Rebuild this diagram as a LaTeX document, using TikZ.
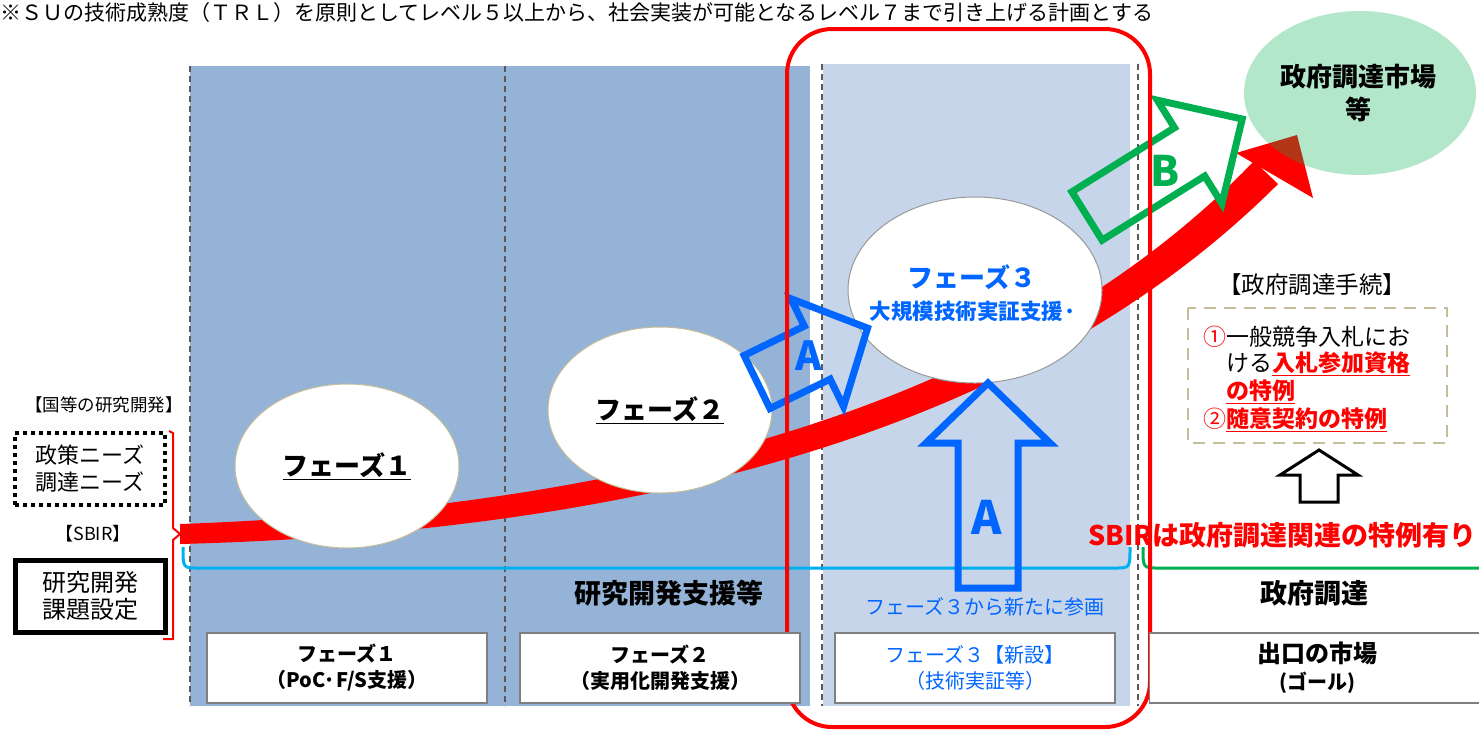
\documentclass[tikz,border=0pt]{standalone}
\usepackage{fontspec}
\setmainfont{Noto Sans CJK JP}
\usetikzlibrary{shapes.geometric}
\definecolor{panelA}{HTML}{95B3D7}
\definecolor{panelB}{HTML}{C6D5EA}
\definecolor{jblue}{HTML}{0066FF}
\definecolor{jred}{HTML}{FF0000}
\definecolor{jgreen}{HTML}{00B050}
\definecolor{jcyan}{HTML}{00B0F0}
\definecolor{jgray}{HTML}{595959}
\definecolor{boxgray}{HTML}{7F7F7F}
\definecolor{jtan}{HTML}{C4BD97}
\newcommand{\fsz}[2]{\fontsize{#1}{#2}\selectfont}
% block arrow: style, tail coordinate, angle, shaft length, half shaft width, head length, half head width
\newcommand{\blkarrow}[7]{\draw[#1, shift={(#2)}, rotate=#3] (0,-#5) -- (#4,-#5) -- (#4,-#7) -- ({#4+#6},0) -- (#4,#7) -- (#4,#5) -- (0,#5) -- cycle;}
\begin{document}
\begin{tikzpicture}[x=1pt,y=-1pt,
  phase/.style={ellipse, fill=white, draw=jtan, line width=1pt, inner sep=0pt},
  botbox/.style={draw=boxgray, line width=1.5pt, fill=white, minimum width=280pt, minimum height=70pt, align=center, inner sep=0pt},
  vline/.style={jgray, line width=1.5pt, dash pattern=on 6pt off 4pt},
  blueblk/.style={draw=jblue, line width=7pt, line join=miter},
  greenblk/.style={draw=jgreen, line width=7pt, line join=miter},
  lbl/.style={inner sep=0pt}
]
\clip (0,0) rectangle (1479,729);
\fill[white] (0,0) rectangle (1479,729);

% note at top
\node[lbl, anchor=west, font={\fsz{21}{24}}] (note) at (0,13) {※ＳＵの技術成熟度（ＴＲＬ）を原則としてレベル５以上から、社会実装が可能となるレベル７まで引き上げる計画とする};

% panels
\fill[panelA] (190,66) rectangle (810,706);
\fill[panelB] (823,64) rectangle (1130,706);
\draw[vline] (190,66) -- (190,706);
\draw[vline] (505,66) -- (505,706);
\draw[vline] (822,64) -- (822,706);
\draw[vline] (1138,64) -- (1138,706);

% braces
\draw[jcyan, line width=3pt] (183,547) .. controls (183,568) .. (198,568) -- (1115,568) .. controls (1130,568) .. (1130,547);
\draw[jgreen, line width=3pt] (1143,547) .. controls (1143,568) .. (1158,568) -- (1485,568);

% main red band
\fill[jred] (180,524) .. controls (600,509) and (1005,420) .. (1254,161)
  -- (1278,184) .. controls (1015,447) and (600,533) .. (180,544) -- cycle;
\coordinate (tipL) at (1236,153);
\coordinate (tip) at (1297,135);
\coordinate (tipR) at (1313,198);
\fill[jred] (tipL) -- (tip) -- (tipR) -- cycle;

% phase ellipses
\node[phase, minimum width=224pt, minimum height=164pt] (p1) at (347,466) {};
\node[lbl, font={\fsz{26}{30}\bfseries}] (p1t) at (p1.center) {\underline{フェーズ１}};
\node[phase, minimum width=224pt, minimum height=166pt] (p2) at (660,410) {};
\node[lbl, font={\fsz{26}{30}\bfseries}] (p2t) at (p2.center) {\underline{フェーズ２}};
\node[phase, draw=boxgray!80, minimum width=254pt, minimum height=186pt] (p3) at (975,290) {};
\node[lbl, text=jblue, font={\bfseries}] (p3a) at (972,277) {\fsz{26}{30}フェーズ３};
\node[lbl, text=jblue, font={\bfseries}] (p3b) at (973,311) {\fsz{21.5}{24}大規模技術実証支援·};

% block arrows
\coordinate (aTail) at (757,382);
\blkarrow{blueblk}{aTail}{26}{67}{29.5}{56}{60}
\node[lbl, text=jblue, font={\fsz{40}{40}\bfseries}] (aLbl) at (809,356) {A};
\coordinate (vTail) at (988,588);
\blkarrow{blueblk}{vTail}{90}{145}{30}{60}{62}
\node[lbl, text=jblue, font={\fsz{46}{46}\bfseries}] (vLbl) at (987,517) {A};
\coordinate (bTail) at (1087,216);
\blkarrow{greenblk}{bTail}{32}{121}{28.5}{62}{61}
\node[lbl, text=jgreen, font={\fsz{42}{42}\bfseries}] (bLbl) at (1165,171) {B};

% red frame
\draw[jred, line width=4pt, rounded corners=45pt] (787,29) rectangle (1150,727);

% market ellipse
\node[ellipse, fill=jgreen, fill opacity=0.3, minimum width=232pt, minimum height=164pt, inner sep=0pt] (market) at (1360,93) {};
\node[lbl, align=center, font={\fsz{26}{33}\bfseries}] (marketT) at (1358,93) {政府調達市場\\等};

% left side
\node[lbl, font={\fsz{17.5}{18}}] (kuni) at (104,405) {【国等の研究開発】};
\node[draw=black, line width=4pt, dash pattern=on 4pt off 4pt, minimum width=150pt, minimum height=72pt, align=center, inner sep=0pt, font={\fsz{22}{27}}] (needs) at (90,469) {政策ニーズ\\調達ニーズ};
\node[lbl, font={\fsz{18}{18}}] (sbirL) at (93,534) {【SBIR】};
\node[draw=black, line width=5pt, minimum width=150pt, minimum height=72pt, align=center, inner sep=0pt, font={\fsz{24}{27}}] (kadai) at (90,596) {研究開発\\課題設定};
\draw[jred, line width=2pt] (needs.north east) ++(2,0) coordinate (brT) -- (173,433) -- (173,528) -- (180,534) -- (173,540) -- (173,639) -- (163,639);

% labels in panels
\node[lbl, font={\fsz{27}{30}\bfseries}] (rd) at (669,593) {研究開発支援等};
\node[lbl, font={\fsz{27}{30}\bfseries}] (gp) at (1314,593) {政府調達};
\node[lbl, text=jblue, font={\fsz{20}{24}}] (join) at (985,607) {フェーズ３から新たに参画};

% bottom boxes
\node[botbox, font={\fsz{20}{26}\bfseries}] (b1) at (347,668) {フェーズ１\\（PoC·F/S支援）};
\node[botbox, font={\fsz{20}{26}\bfseries}] (b2) at (660,668) {フェーズ２\\（実用化開発支援）};
\node[botbox, text=jblue, font={\fsz{20}{26}}] (b3) at (975,668) {フェーズ３【新設】\\（技術実証等）};
\node[botbox, minimum width=335pt, font={\fsz{24}{27}\bfseries}] (b4) at (1317,668) {出口の市場\\\fsz{20}{26}(ゴール)};

% procedure
\node[lbl, font={\fsz{23.5}{26}}] (proc) at (1312,285) {【政府調達手続】};
\draw[jtan, line width=2.5pt, dash pattern=on 12pt off 8pt] (1188,308) rectangle (1447,443);
\node[lbl, anchor=west, font={\fsz{23}{26}}] (pl1) at (1203,337) {{\color{jred}①}一般競争入札にお};
\node[lbl, anchor=west, font={\fsz{23}{26}}] (pl2) at (1203,364) {\phantom{①}ける{\color{jred}\bfseries\underline{入札参加資格}}};
\node[lbl, anchor=west, font={\fsz{23}{26}}] (pl3) at (1203,392) {\phantom{①}{\color{jred}\bfseries\underline{の特例}}};
\node[lbl, anchor=west, font={\fsz{23}{26}}] (pl4) at (1203,420) {{\color{jred}②\bfseries\underline{随意契約の特例}}};
\coordinate (upTail) at (1319,502);
\blkarrow{draw=black, line width=3pt, fill=white, line join=miter}{upTail}{90}{27}{19}{25}{39}
\node[lbl, anchor=east, text=jred, font={\fsz{27}{30}\bfseries}] (sbirR) at (1477,535) {SBIRは政府調達関連の特例有り};
\end{tikzpicture}
\end{document}
